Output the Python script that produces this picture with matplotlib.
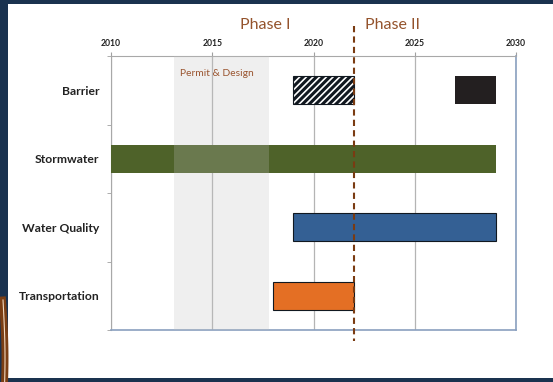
import matplotlib.pyplot as plt
import matplotlib.patches as mpatches
import numpy as np

plt.rcParams['font.family'] = ['Lato', 'DejaVu Sans']
plt.rcParams['hatch.linewidth'] = 2.2

# tâches du planning
categories = ['Barrier', 'Stormwater', 'Water Quality', 'Transportation']
bar_start = [2019, 2010, 2019, 2018]
bar_end = [2022, 2029, 2029, 2022]
bar_colors = ['white', '#4e6229', '#346094', '#e46f24']
bar_hatch = ['/////', None, None, None]

# deuxième segment de Barrier
extra_start = [2027]
extra_end = [2029]

years = [2010, 2015, 2020, 2025, 2030]
permit_start, permit_end = 2013.1, 2017.8
phase_split = 2022

fig = plt.figure(figsize=(5.53, 3.82), dpi=100)
fig.patch.set_facecolor('#1a324f')

# panneau blanc
fig.patches.append(mpatches.Rectangle((8 / 553, 1 - 377.5 / 382), 1, 373.5 / 382,
                                      transform=fig.transFigure, facecolor='white',
                                      edgecolor='none', zorder=0))
# décor brun à gauche
t = np.linspace(0, 1, 50)
fig.lines.append(plt.Line2D(2.5 / 553 + 2.5 / 553 * np.sin(t * 2.2), 1 - (300 + 82 * t) / 382,
                            transform=fig.transFigure, color='#7a3e14', lw=5))
fig.lines.append(plt.Line2D(3 / 553 + 2 / 553 * np.sin(t * 2.2), 1 - (300 + 82 * t) / 382,
                            transform=fig.transFigure, color='#f0d8c0', lw=0.8))

ax = fig.add_axes([111 / 553, 1 - 330 / 382, 405 / 553, 274 / 382])
ax.set_zorder(5)
ax.set_facecolor('white')

y = np.arange(len(categories))
for i in range(len(categories)):
    ax.barh(y[i], bar_end[i] - bar_start[i], left=bar_start[i], height=0.41,
            color=bar_colors[i], hatch=bar_hatch[i],
            edgecolor='#111820' if i != 1 else 'none', linewidth=0.8, zorder=3)
for s, e in zip(extra_start, extra_end):
    ax.barh(y[0], e - s, left=s, height=0.41, color='#231f20', zorder=3)

ax.axvspan(permit_start, permit_end, color='#c0c0c0', alpha=0.25, lw=0, zorder=4)
ax.text((permit_start + permit_end) / 2 - 0.2, -0.24, 'Permit & Design', ha='center', va='center',
        fontsize=7.4, color='#9a5530', zorder=5)

ax.set_xlim(years[0], years[-1])
ax.set_ylim(len(categories) - 0.5, -0.5)
ax.set_xticks(years)
ax.set_xticklabels([str(v) for v in years], fontsize=6.2, fontweight='bold', color='#222222')
ax.xaxis.tick_top()
ax.tick_params(axis='x', length=3, color='#a0a0a0', pad=3)
ax.grid(axis='x', color='#b4b4b4', lw=0.9, zorder=1)
ax.set_axisbelow(True)

ax.set_yticks(y)
ax.set_yticklabels(categories, fontsize=8.7, fontweight='bold', color='#222222')
ax.set_yticks(np.arange(len(categories) + 1) - 0.5, minor=True)
ax.tick_params(axis='y', which='major', length=0, pad=8.5)
ax.tick_params(axis='y', which='minor', length=3, color='#a0a0a0')

for side in ['top', 'left']:
    ax.spines[side].set_color('#a8a8a8')
for side in ['right', 'bottom']:
    ax.spines[side].set_color('#8aa0bf')
    ax.spines[side].set_linewidth(1.2)

# séparation des phases
ax.plot([phase_split, phase_split], [-0.94, 3.66], color='#7a3b12', lw=1.5,
        ls=(0, (3, 2)), clip_on=False, zorder=6)
fig.text(290 / 553, 1 - 25 / 382, 'Phase I', ha='right', va='center', fontsize=11.5, color='#94532c')
fig.text(365 / 553, 1 - 25 / 382, 'Phase II', ha='left', va='center', fontsize=11.5, color='#94532c')

fig.savefig('out.png', dpi=100, facecolor=fig.get_facecolor())
